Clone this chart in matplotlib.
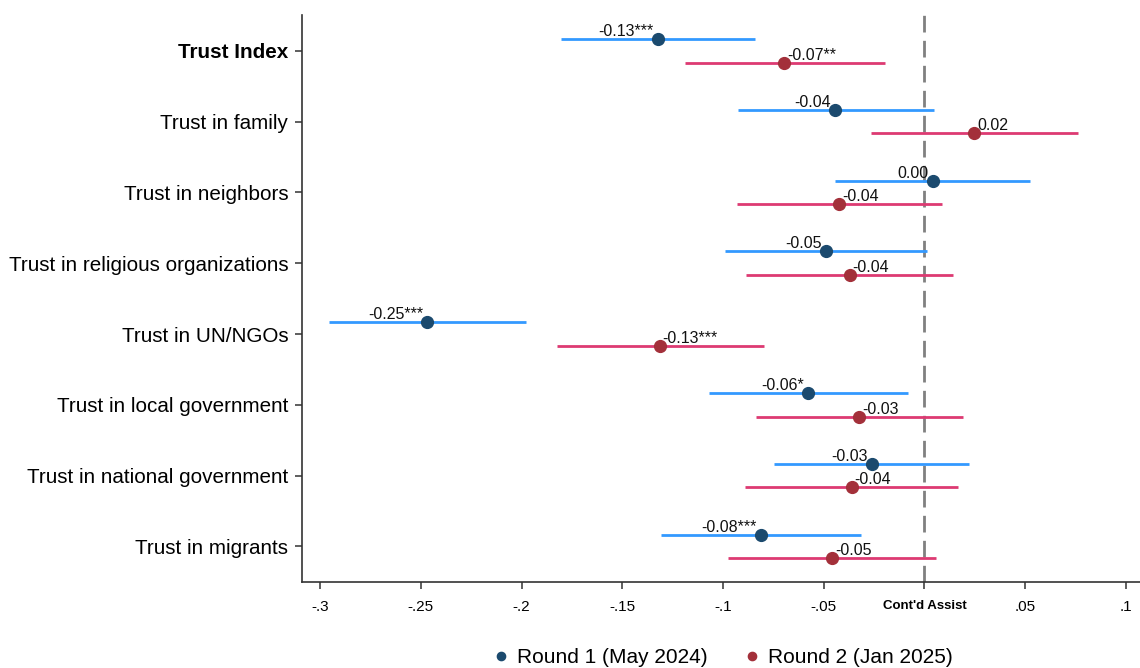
import numpy as np
import matplotlib
matplotlib.use("Agg")
import matplotlib.pyplot as plt

plt.rcParams['font.family'] = ['Liberation Sans', 'DejaVu Sans']

labels = ["Trust Index", "Trust in family", "Trust in neighbors",
          "Trust in religious organizations", "Trust in UN/NGOs",
          "Trust in local government", "Trust in national government",
          "Trust in migrants"]

# Round 1 (May 2024): estimate, CI low, CI high, printed label
r1_est = [-0.1324, -0.0442, 0.0041, -0.0488, -0.2469, -0.0578, -0.0263, -0.0813]
r1_lo = [-0.1807, -0.0927, -0.0442, -0.0988, -0.2958, -0.1071, -0.0748, -0.1306]
r1_hi = [-0.0842, 0.0046, 0.0523, 0.0013, -0.1976, -0.0081, 0.0223, -0.0315]
r1_txt = ["-0.13***", "-0.04", "0.00", "-0.05", "-0.25***", "-0.06*", "-0.03", "-0.08***"]

# Round 2 (Jan 2025)
r2_est = [-0.0695, 0.0248, -0.0422, -0.0372, -0.1314, -0.0324, -0.0362, -0.0458]
r2_lo = [-0.1190, -0.0265, -0.0933, -0.0887, -0.1824, -0.0836, -0.0889, -0.0975]
r2_hi = [-0.0197, 0.0761, 0.0089, 0.0142, -0.0798, 0.0189, 0.0166, 0.0055]
r2_txt = ["-0.07**", "0.02", "-0.04", "-0.04", "-0.13***", "-0.03", "-0.04", "-0.05"]

xticks = [-0.3, -0.25, -0.2, -0.15, -0.1, -0.05, 0, 0.05, 0.1]
xtick_labels = ["-.3", "-.25", "-.2", "-.15", "-.1", "-.05", "Cont'd Assist", ".05", ".1"]

line1, dot1 = "#3399FF", "#1B4A6E"
line2, dot2 = "#DD3A72", "#A3303A"

fig = plt.figure(figsize=(11.4, 6.68), dpi=100)
ax = fig.add_axes([0.265, 0.129, 0.735, 0.848])

y = np.arange(len(labels))
off = 0.167

ax.axvline(0, color="#808080", lw=2, dashes=(6, 3), zorder=1)

ax.hlines(y - off, r1_lo, r1_hi, color=line1, lw=2, zorder=2)
ax.hlines(y + off, r2_lo, r2_hi, color=line2, lw=2, zorder=2)
ax.plot(r1_est, y - off, "o", color=dot1, ms=8.5, zorder=3, label="Round 1 (May 2024)")
ax.plot(r2_est, y + off, "o", color=dot2, ms=8.5, zorder=3, label="Round 2 (Jan 2025)")

for i in range(len(labels)):
    ax.annotate(r1_txt[i], (r1_est[i], y[i] - off), xytext=(-3, 0),
                textcoords="offset points", ha="right", va="bottom",
                fontsize=11.5, color="#111111")
    ax.annotate(r2_txt[i], (r2_est[i], y[i] + off), xytext=(2, 0),
                textcoords="offset points", ha="left", va="bottom",
                fontsize=11.5, color="#111111")

ax.set_xlim(-0.309, 0.107)
ax.set_ylim(7.5, -0.5)
ax.set_yticks(y)
ax.set_yticklabels(labels, fontsize=14.9)
ax.get_yticklabels()[0].set_fontweight("bold")
ax.set_xticks(xticks)
ax.set_xticklabels(xtick_labels, fontsize=11)
ax.get_xticklabels()[6].set_fontweight("bold")
ax.get_xticklabels()[6].set_fontsize(9.5)

for s in ["top", "right"]:
    ax.spines[s].set_visible(False)
for s in ["left", "bottom"]:
    ax.spines[s].set_color("#333333")
    ax.spines[s].set_linewidth(1.2)
ax.tick_params(axis="both", color="#333333", length=5, width=1.1)
ax.tick_params(axis="y", pad=5)
ax.tick_params(axis="x", pad=8)

fig.legend(loc="lower center", bbox_to_anchor=(0.633, -0.027), ncol=2, frameon=False,
           fontsize=15, markerscale=0.7, handlelength=1.0, handletextpad=0.3,
           columnspacing=1.6)

fig.savefig("out.png", dpi=100)
